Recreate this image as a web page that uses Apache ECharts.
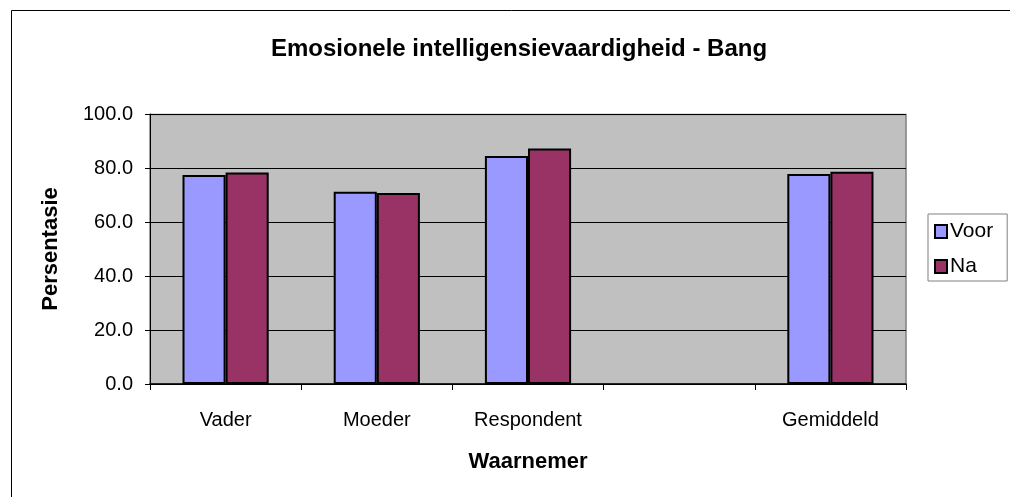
<!DOCTYPE html>
<html>
<head>
<meta charset="utf-8">
<script src="https://cdn.jsdelivr.net/npm/echarts@6/dist/echarts.min.js"></script>
<style>
html,body{margin:0;padding:0;background:#fff;}
#c{width:1010px;height:497px;}
</style>
</head>
<body>
<div id="c"></div>
<script>
const categories = ['Vader', 'Moeder', 'Respondent', '', 'Gemiddeld'];
const voor = [77.4, 71.2, 84.4, null, 77.8];
const na = [78.3, 70.7, 87.2, null, 78.6];
const yTicks = [0, 20, 40, 60, 80, 100];

const FONT = 'Liberation Sans, Arial, sans-serif';
const chart = echarts.init(document.getElementById('c'), null, {renderer: 'canvas'});
chart.setOption({
  animation: false,
  backgroundColor: '#ffffff',
  title: {
    text: 'Emosionele intelligensievaardigheid - Bang',
    left: 514, top: 32, textAlign: 'center',
    textStyle: {fontFamily: FONT, fontSize: 24, fontWeight: 'bold', color: '#000'}
  },
  legend: {
    orient: 'vertical',
    left: 928, top: 214,
    padding: [7, 14, 4, 6],
    borderColor: '#808080', borderWidth: 1,
    itemWidth: 12, itemHeight: 13, itemGap: 14,
    icon: 'rect',
    textStyle: {fontFamily: FONT, fontSize: 21, color: '#000', padding: [0,0,0,-2]},
    data: [
      {name: 'Voor', itemStyle: {borderColor: '#000', borderWidth: 2}},
      {name: 'Na', itemStyle: {borderColor: '#000', borderWidth: 2}}
    ]
  },
  graphic: [
    {type: 'rect', shape: {x: 11.5, y: 10.5, width: 1010, height: 500}, style: {fill: null, stroke: '#000', lineWidth: 1}, silent: true},
    {type: 'rect', shape: {x: 150, y: 114.5, width: 756, height: 269.5}, style: {fill: null, stroke: '#808080', lineWidth: 1.5}, silent: true, z: 0}
  ],
  grid: {
    left: 150, right: 104, top: 114, bottom: 113,
    show: true, backgroundColor: '#C0C0C0', borderWidth: 0
  },
  xAxis: {
    type: 'category',
    data: categories,
    name: 'Waarnemer',
    nameLocation: 'middle',
    nameGap: 67,
    nameTextStyle: {fontFamily: FONT, fontSize: 22, fontWeight: 'bold', color: '#000'},
    axisLine: {lineStyle: {color: '#000', width: 1.5}},
    axisTick: {show: true, length: 6, lineStyle: {color: '#000'}, alignWithLabel: false},
    axisLabel: {fontFamily: FONT, fontSize: 20, color: '#000', margin: 26, interval: 0}
  },
  yAxis: {
    type: 'value',
    min: 0, max: 100, interval: 20,
    name: 'Persentasie',
    nameLocation: 'middle',
    nameGap: 88,
    nameTextStyle: {fontFamily: FONT, fontSize: 22, fontWeight: 'bold', color: '#000'},
    axisLine: {show: true, lineStyle: {color: '#000', width: 1}},
    axisTick: {show: true, length: 5, lineStyle: {color: '#000'}},
    axisLabel: {fontFamily: FONT, fontSize: 20, color: '#000', margin: 17,
      formatter: v => yTicks.includes(v) ? v.toFixed(1) : ''},
    splitLine: {show: true, lineStyle: {color: '#000', width: 1}}
  },
  series: [
    {name: 'Voor', type: 'bar', data: voor, barGap: '0%', barCategoryGap: '43%',
     itemStyle: {color: '#9999FF', borderColor: '#000', borderWidth: 2}},
    {name: 'Na', type: 'bar', data: na,
     itemStyle: {color: '#993366', borderColor: '#000', borderWidth: 2}}
  ]
});
</script>
</body>
</html>
